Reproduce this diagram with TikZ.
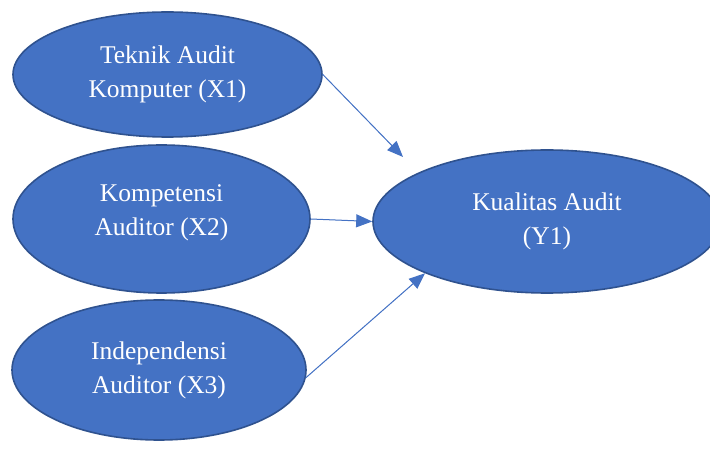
\documentclass[tikz,border=0pt]{standalone}
\usepackage{fontspec}
\setmainfont{Liberation Serif}
\usepackage{tikz}
\usetikzlibrary{arrows.meta,shapes.geometric}
\definecolor{wordblue}{HTML}{4472C4}
\definecolor{wordedge}{HTML}{2F528F}

\begin{document}
\begin{tikzpicture}[line cap=round,line join=round,>={Triangle[length=16pt,width=13pt]},x=1pt,y=-1pt,
	var/.style={ellipse,draw=wordedge,line width=1.6pt,fill=wordblue,text=white,align=center,inner sep=0pt,font=\fontsize{25.5}{34}\selectfont},
	link/.style={->,line width=1pt,draw=wordblue,fill=wordblue}]
	\clip(0,0) rectangle (710,449);
	
	\node[var,minimum width=309pt,minimum height=125pt] (X1) at (167.5,74.5) {Teknik Audit\\Komputer (X1)};
	\node[var,minimum width=297pt,minimum height=148pt,text depth=18pt] (X2) at (161.5,219) {Kompetensi\\Auditor (X2)};
	\node[var,minimum width=294pt,minimum height=140pt] (X3) at (159,370) {Independensi\\Auditor (X3)};
	\node[var,minimum width=348pt,minimum height=143pt] (Y1) at (547,221.5) {Kualitas Audit\\(Y1)};
	
	\coordinate (T1) at (403,157);
	\draw[link] (X1.east) -- (T1);
	\draw[link] (X2.east) -- (Y1.west);
	\draw[link] (X3.357) -- (Y1.203);
\end{tikzpicture}
\end{document}
